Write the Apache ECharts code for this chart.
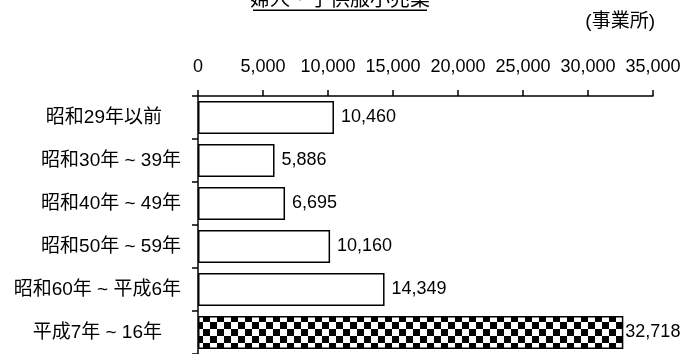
<!DOCTYPE html>
<html>
<head>
<meta charset="utf-8">
<script src="https://cdn.jsdelivr.net/npm/echarts@6/dist/echarts.min.js"></script>
<style>
  html, body { margin: 0; padding: 0; background: #fff; }
  #chart { width: 686px; height: 354px; }
</style>
</head>
<body>
<div id="chart"></div>
<script>
// 婦人・子供服小売業 開設時期別事業所数
const categories = ['昭和29年以前　', '昭和30年 ~ 39年', '昭和40年 ~ 49年', '昭和50年 ~ 59年', '昭和60年 ~ 平成6年', '平成7年 ~ 16年　'];
const counts = [10460, 5886, 6695, 10160, 14349, 32718];
const xTicks = [0, 5000, 10000, 15000, 20000, 25000, 30000, 35000];

const FONT = "'Liberation Sans', 'Noto Sans CJK JP', sans-serif";

// checkerboard fill for the latest period
function checker (cell) {
  const c = document.createElement('canvas');
  c.width = cell * 2;
  c.height = cell * 2;
  const ctx = c.getContext('2d');
  ctx.fillStyle = '#fff';
  ctx.fillRect(0, 0, cell * 2, cell * 2);
  ctx.fillStyle = '#000';
  ctx.fillRect(0, 0, cell, cell);
  ctx.fillRect(cell, cell, cell, cell);
  return c;
}

const fmt = v => v.toLocaleString('en-US');

const chart = echarts.init(document.getElementById('chart'));
chart.setOption({
  animation: false,
  textStyle: { fontFamily: FONT },
  grid: { left: 198, right: 33, top: 96, height: 260 },
  graphic: [
    {
      type: 'text',
      x: 340, y: 10,
      style: {
        text: '婦人・子供服小売業',
        font: '20px ' + FONT,
        fill: '#000',
        align: 'center',
        verticalAlign: 'bottom'
      }
    },
    {
      type: 'rect',
      shape: { x: 253, y: 9.5, width: 174, height: 1.5 },
      style: { fill: '#000' }
    },
    {
      type: 'text',
      x: 655, y: 22,
      style: {
        text: '(事業所)',
        font: '19px ' + FONT,
        fill: '#000',
        align: 'right',
        verticalAlign: 'middle'
      }
    }
  ],
  xAxis: {
    type: 'value',
    position: 'top',
    min: xTicks[0],
    max: xTicks[xTicks.length - 1],
    interval: xTicks[1] - xTicks[0],
    axisLine: { show: true, lineStyle: { color: '#000', width: 1.5 } },
    axisTick: { show: true, length: 6, lineStyle: { color: '#000', width: 1.5 } },
    axisLabel: {
      color: '#000', fontSize: 18, margin: 20, fontFamily: FONT,
      formatter: v => fmt(v)
    },
    splitLine: { show: false }
  },
  yAxis: {
    type: 'category',
    inverse: true,
    data: categories,
    axisLine: { show: true, lineStyle: { color: '#000', width: 1.5 } },
    axisTick: { show: true, length: 6, lineStyle: { color: '#000', width: 1.5 } },
    axisLabel: { color: '#000', fontSize: 19, margin: 17, fontFamily: FONT }
  },
  series: [{
    type: 'bar',
    barCategoryGap: '23%',
    data: counts.map((v, i) => i === counts.length - 1
      ? { value: v, itemStyle: { color: { image: checker(7), repeat: 'repeat' } }, label: { distance: 2 } }
      : v),
    itemStyle: { color: '#fff', borderColor: '#000', borderWidth: 1.5 },
    label: {
      show: true,
      position: 'right',
      distance: 7,
      color: '#000',
      fontSize: 18,
      fontFamily: FONT,
      formatter: p => fmt(p.value)
    }
  }]
});
</script>
</body>
</html>
